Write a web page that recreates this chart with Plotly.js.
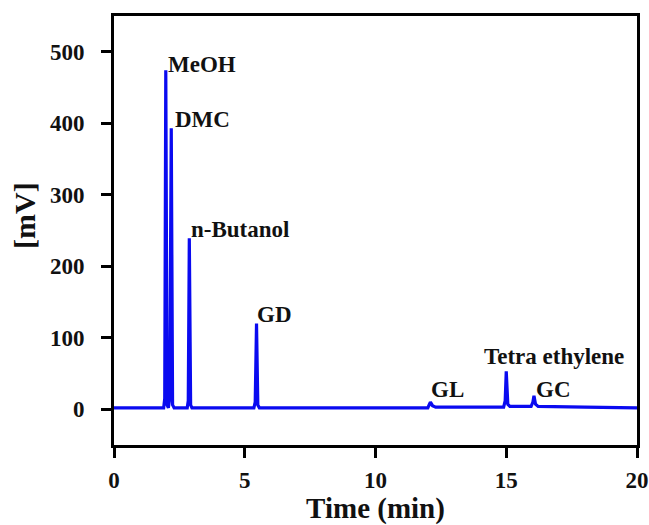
<!DOCTYPE html>
<html>
<head>
<meta charset="utf-8">
<script src="https://cdn.plot.ly/plotly-3.0.1.min.js"></script>
<style>html,body{margin:0;padding:0;background:#fff;}#chart{width:649px;height:525px;}</style>
</head>
<body>
<div id="chart"></div>
<script>
// Chromatogram (time in min, signal in mV)
var timeMin = [0, 1.0, 1.9, 1.94, 1.98, 2.03, 2.08, 2.13, 2.16, 2.19, 2.24, 2.3, 2.8, 2.84, 2.88, 2.93, 2.98, 5.35, 5.40, 5.45, 5.50, 5.56, 6.5, 12.0, 12.05, 12.1, 12.18, 12.3, 14.9, 14.96, 15.0, 15.06, 15.14, 15.95, 16.02, 16.06, 16.12, 16.22, 18.0, 20.0];
var signalMV = [2, 2, 2, 15, 474, 6, 2, 15, 380, 393, 6, 2, 2, 12, 239, 6, 2, 2, 10, 120, 6, 2, 2, 2, 6, 10, 5, 3, 3, 12, 53, 7, 4, 4, 10, 19, 7, 4, 3, 2];

var peakNames = ["MeOH", "DMC", "n-Butanol", "GD", "GL", "Tetra ethylene", "GC"];
var labelX = [2.0, 2.27, 2.85, 5.41, 12.03, 14.08, 16.08];
var labelY = [482, 405, 252, 132, 27, 74, 27];

var xTicks = [0, 5, 10, 15, 20];
var yTicks = [0, 100, 200, 300, 400, 500];

var fontFam = '"Liberation Serif", "Times New Roman", serif';

var annotations = peakNames.map(function (n, i) {
  return {
    x: labelX[i], y: labelY[i], xref: 'x', yref: 'y',
    text: '<b>' + n + '</b>', showarrow: false,
    xanchor: 'left', yanchor: 'middle',
    font: {family: fontFam, size: 23, color: '#111'}
  };
});
annotations.push({
  xref: 'paper', yref: 'paper', x: -0.17, y: 0.534,
  text: '<b>[mV]</b>', showarrow: false, textangle: -90,
  xanchor: 'center', yanchor: 'middle',
  font: {family: fontFam, size: 30, color: '#111'}
});

var trace = {
  x: timeMin, y: signalMV, type: 'scatter', mode: 'lines',
  line: {color: '#0a0af0', width: 3.2}, hoverinfo: 'skip'
};

var axisCommon = {
  showgrid: false, zeroline: false, showline: true, mirror: true,
  linecolor: '#000', linewidth: 3, ticks: 'outside', ticklen: 10,
  tickwidth: 3, tickcolor: '#000',
  tickfont: {family: fontFam, size: 23, color: '#111', weight: 'bold'}
};

var layout = {
  width: 649, height: 525,
  margin: {l: 114, r: 12, t: 16, b: 80},
  paper_bgcolor: '#fff', plot_bgcolor: '#fff',
  showlegend: false,
  xaxis: Object.assign({}, axisCommon, {
    range: [0, 20], tickvals: xTicks, ticktext: xTicks.map(String),
    ticklabelstandoff: 2,
    title: {text: '<b>Time (min)</b>', font: {family: fontFam, size: 29, color: '#111'}, standoff: 8}
  }),
  yaxis: Object.assign({}, axisCommon, {
    range: [-50, 550], tickvals: yTicks, ticktext: yTicks.map(String),
    ticklabelstandoff: 12
  }),
  annotations: annotations
};

Plotly.newPlot('chart', [trace], layout, {staticPlot: true, displayModeBar: false});
</script>
</body>
</html>
